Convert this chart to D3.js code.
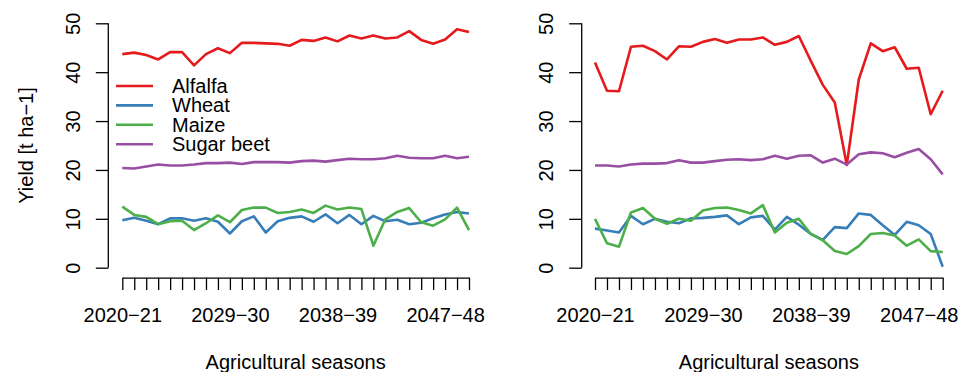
<!DOCTYPE html>
<meta charset="utf-8">
<style>
body { margin: 0; background: #fff; }
svg { display: block; font-family: "Liberation Sans", Arial, sans-serif; }
.axis path, .axis line { stroke: #000; stroke-width: 1.3; fill: none; }
.series { fill: none; stroke-width: 2.6; stroke-linejoin: round; }
</style>
<svg width="960" height="372"></svg>
<script src="https://d3js.org/d3.v7.min.js"></script>
<script>

var seasons = ["2020-21","2021-22","2022-23","2023-24","2024-25","2025-26","2026-27","2027-28","2028-29","2029-30",
  "2030-31","2031-32","2032-33","2033-34","2034-35","2035-36","2036-37","2037-38","2038-39","2039-40",
  "2040-41","2041-42","2042-43","2043-44","2044-45","2045-46","2046-47","2047-48","2048-49","2049-50"];
var labelledSeasons = ["2020-21", "2029-30", "2038-39", "2047-48"];
var yTicks = [0, 10, 20, 30, 40, 50];

var crops = ["Alfalfa", "Wheat", "Maize", "Sugar beet"];
var cropColors = ["#E41A1C", "#377EB8", "#4DAF4A", "#984EA3"];

// left panel
var alfalfaA = [43.7,44.0,43.5,42.6,44.1,44.1,41.4,43.7,44.9,43.9,46.0,46.0,45.9,45.8,45.4,46.6,46.4,47.1,46.3,47.5,46.9,47.5,46.9,47.1,48.4,46.6,45.8,46.7,48.8,48.2];
var wheatA   = [9.7,10.2,9.6,8.9,10.1,10.1,9.6,10.1,9.4,7.0,9.5,10.5,7.2,9.5,10.2,10.5,9.4,10.9,9.1,10.8,8.9,10.6,9.5,9.8,8.9,9.2,10.1,10.9,11.4,11.1];
var maizeA   = [12.5,10.8,10.4,8.9,9.5,9.6,7.7,9.1,10.7,9.3,11.8,12.3,12.3,11.2,11.4,11.9,11.2,12.7,11.9,12.3,12.0,4.5,9.9,11.4,12.2,9.3,8.6,9.9,12.3,7.7];
var beetA    = [20.4,20.3,20.7,21.1,20.9,20.9,21.1,21.4,21.4,21.5,21.2,21.6,21.6,21.6,21.5,21.8,21.9,21.7,22.0,22.3,22.2,22.2,22.4,22.9,22.5,22.4,22.4,22.9,22.4,22.7];

// right panel
var alfalfaB = [42.0,36.2,36.1,45.2,45.4,44.3,42.6,45.3,45.2,46.2,46.8,46.0,46.7,46.7,47.1,45.6,46.2,47.4,42.3,37.4,33.8,21.0,38.5,45.9,44.3,45.1,40.7,40.9,31.4,36.2];
var wheatB   = [8.0,7.6,7.2,10.6,8.9,10.0,9.4,9.1,10.1,10.2,10.4,10.7,8.9,10.3,10.6,7.8,10.4,8.8,6.9,5.7,8.3,8.1,11.1,10.8,8.7,6.7,9.4,8.7,6.9,0.2];
var maizeB   = [10.0,5.0,4.3,11.3,12.2,10.0,9.0,10.0,9.6,11.7,12.2,12.3,11.8,11.1,12.8,7.2,9.2,10.0,6.9,5.6,3.4,2.8,4.4,6.9,7.1,6.6,4.5,5.8,3.4,3.2];
var beetB    = [20.9,20.9,20.7,21.1,21.3,21.3,21.4,22.0,21.5,21.5,21.8,22.1,22.2,22.0,22.2,22.9,22.3,22.9,23.0,21.5,22.3,21.1,23.2,23.6,23.4,22.6,23.5,24.3,22.2,19.1];

var svg = d3.select("svg");
var fontSize = "20px";
var minus = function(s) { return s.replace("-", "\u2212"); };

var y = d3.scaleLinear().domain([0, 50]).range([267.7, 23.3]);

function panel(x0, x1, axisX, series, showYTitle, showLegend) {
  var x = d3.scalePoint().domain(seasons).range([x0, x1]);
  var g = svg.append("g");

  var xAxis = g.append("g")
      .attr("class", "axis")
      .attr("transform", "translate(0,277.7)")
      .call(d3.axisBottom(x).tickSize(12.3).tickSizeOuter(0)
        .tickFormat(function(d) { return labelledSeasons.indexOf(d) >= 0 ? minus(d) : ""; }));
  xAxis.selectAll("text")
      .attr("y", 44).attr("dy", null)
      .style("font-size", fontSize).attr("fill", "#000");

  var yAxis = g.append("g")
      .attr("class", "axis")
      .attr("transform", "translate(" + axisX + ",0)")
      .call(d3.axisLeft(y).tickValues(yTicks).tickSize(12.5).tickSizeOuter(0));
  yAxis.selectAll(".tick text")
      .attr("x", null).attr("dy", null)
      .attr("text-anchor", "middle")
      .attr("transform", "translate(-28.3,0) rotate(-90)")
      .style("font-size", fontSize).attr("fill", "#000");
  yAxis.select(".domain").attr("d", "M0," + y(0) + "V" + y(50));

  var line = d3.line()
      .x(function(d, i) { return x(seasons[i]); })
      .y(function(d) { return y(d); });

  g.selectAll(".series")
    .data(series)
    .enter().append("path")
      .attr("class", "series")
      .attr("stroke", function(d, i) { return cropColors[i]; })
      .attr("d", line);

  g.append("text")
      .attr("x", (x0 + x1) / 2)
      .attr("y", 369)
      .attr("text-anchor", "middle")
      .style("font-size", fontSize)
      .text("Agricultural seasons");

  if (showYTitle) {
    g.append("text")
        .attr("transform", "translate(33," + ((y(0) + y(50)) / 2) + ") rotate(-90)")
        .attr("text-anchor", "middle")
        .style("font-size", fontSize)
        .text("Yield [t ha\u22121]");
  }

  if (showLegend) {
    var leg = g.selectAll(".legend")
      .data(crops)
      .enter().append("g")
        .attr("transform", function(d, i) { return "translate(116," + (86 + i * 19.4) + ")"; });
    leg.append("line")
        .attr("x2", 37)
        .attr("stroke", function(d, i) { return cropColors[i]; })
        .attr("stroke-width", 2.6);
    leg.append("text")
        .attr("x", 56)
        .attr("y", 7)
        .style("font-size", fontSize)
        .text(function(d) { return d; });
  }
}

panel(122.3, 469, 108.3, [alfalfaA, wheatA, maizeA, beetA], true, true);
panel(595, 942.7, 581.7, [alfalfaB, wheatB, maizeB, beetB], false, false);

</script>
